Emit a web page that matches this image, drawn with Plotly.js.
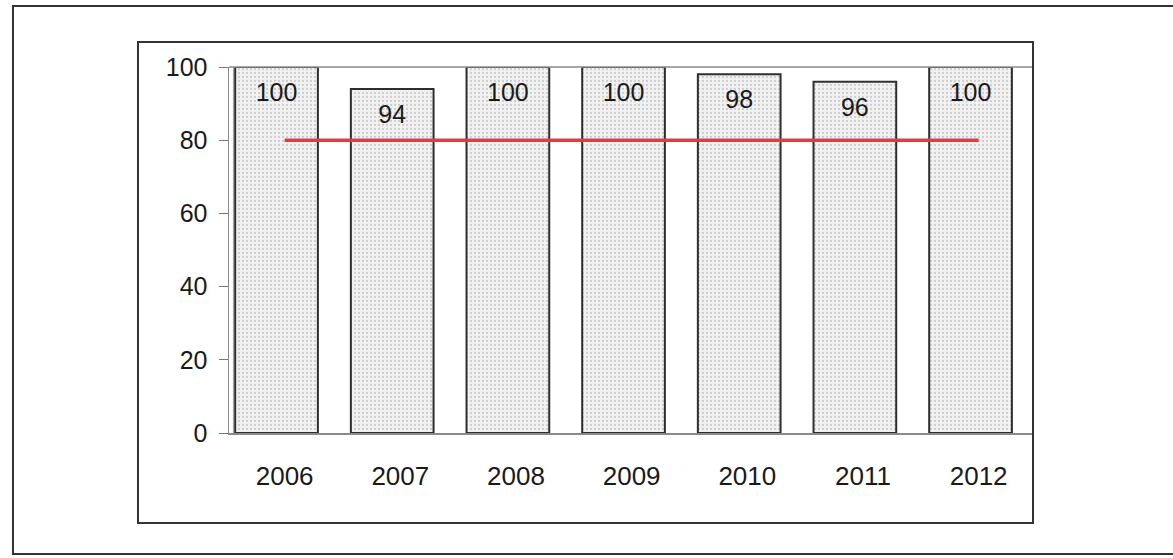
<!DOCTYPE html>
<html>
<head>
<meta charset="utf-8">
<script src="https://cdn.plot.ly/plotly-3.0.1.min.js"></script>
<style>
  html, body { margin: 0; padding: 0; background: #ffffff; }
  #chart { width: 1173px; height: 558px; }
</style>
</head>
<body>
<div id="chart"></div>
<script>
// Yearly results (%) with the 80% target line
const years = ['2006', '2007', '2008', '2009', '2010', '2011', '2012'];
const values = [100, 94, 100, 100, 98, 96, 100];
const target = [80, 80, 80, 80, 80, 80, 80];
const yTicks = [0, 20, 40, 60, 80, 100];

const FONT = 'Liberation Sans, Arial, sans-serif';
const INK = '#1a1a1a';

const bars = {
  type: 'bar',
  x: years,
  y: values,
  width: 0.715,
  marker: {
    color: '#eeeeee',
    line: { color: '#2e2e2e', width: 2 },
    pattern: { shape: '.', fgcolor: '#cdcdcd', bgcolor: '#f2f2f2', size: 4, solidity: 0.25 }
  },
  hoverinfo: 'skip',
  showlegend: false
};

const targetLine = {
  type: 'scatter',
  mode: 'lines',
  x: years,
  y: target,
  xaxis: 'x2',
  line: { color: '#e53a44', width: 3.5 },
  hoverinfo: 'skip',
  showlegend: false
};

// value labels, drawn on an overlaid value axis that sits a little lower
// so each number lands inside its bar just under the top
const valueLabels = {
  type: 'scatter',
  mode: 'text',
  x: years,
  y: values,
  yaxis: 'y2',
  text: values.map(String),
  textposition: 'middle center',
  textfont: { family: FONT, size: 25, color: INK },
  hoverinfo: 'skip',
  showlegend: false
};

const xRange = [-0.411, 6.54];
const xShift = 0.07;
const yShift = 7.6;

const layout = {
  width: 1173,
  height: 558,
  margin: { l: 229, r: 140, t: 67, b: 125, pad: 0 },
  paper_bgcolor: '#ffffff',
  plot_bgcolor: '#ffffff',
  xaxis: {
    type: 'category',
    range: xRange,
    showticklabels: false,
    ticks: '',
    showgrid: false,
    zeroline: false,
    showline: true,
    linecolor: '#8a8a8a',
    linewidth: 1.5,
    fixedrange: true
  },
  xaxis2: {
    type: 'category',
    overlaying: 'x',
    anchor: 'y',
    side: 'bottom',
    range: [xRange[0] - xShift, xRange[1] - xShift],
    showline: false,
    showgrid: false,
    zeroline: false,
    ticks: '',
    ticklabelstandoff: 25,
    tickfont: { family: FONT, size: 26, color: INK },
    fixedrange: true
  },
  yaxis: {
    range: [0, 100],
    tickvals: yTicks,
    ticktext: yTicks.map(String),
    ticks: 'outside',
    ticklen: 9,
    tickwidth: 1,
    tickcolor: '#777777',
    ticklabelstandoff: 6,
    tickfont: { family: FONT, size: 25, color: INK },
    showgrid: false,
    zeroline: false,
    showline: true,
    linecolor: '#8a8a8a',
    linewidth: 1.5,
    fixedrange: true
  },
  yaxis2: {
    overlaying: 'y',
    anchor: 'x',
    range: [yShift, 100 + yShift],
    visible: false,
    fixedrange: true
  },
  shapes: [
    // plot area top edge
    { type: 'line', xref: 'paper', yref: 'paper', x0: 0, x1: 1, y0: 1, y1: 1,
      line: { color: '#8a8a8a', width: 1.5 } },
    // second thin rule just inside the value axis
    { type: 'line', xref: 'paper', yref: 'paper', x0: 0.0055, x1: 0.0055, y0: 0, y1: 1,
      line: { color: '#9a9a9a', width: 1 } },
    // chart frame
    { type: 'rect', xref: 'paper', yref: 'paper', x0: -0.1132, x1: 1.0, y0: -0.2459, y1: 1.0683,
      line: { color: '#333333', width: 2 }, fillcolor: 'rgba(0,0,0,0)', layer: 'above' },
    // outer page frame
    { type: 'rect', xref: 'paper', yref: 'paper', x0: -0.2687, x1: 1.2, y0: -0.3306, y1: 1.1667,
      line: { color: '#333333', width: 2 }, fillcolor: 'rgba(0,0,0,0)', layer: 'above' }
  ],
  showlegend: false
};

Plotly.newPlot('chart', [bars, targetLine, valueLabels], layout, { staticPlot: true, displayModeBar: false });
</script>
</body>
</html>
